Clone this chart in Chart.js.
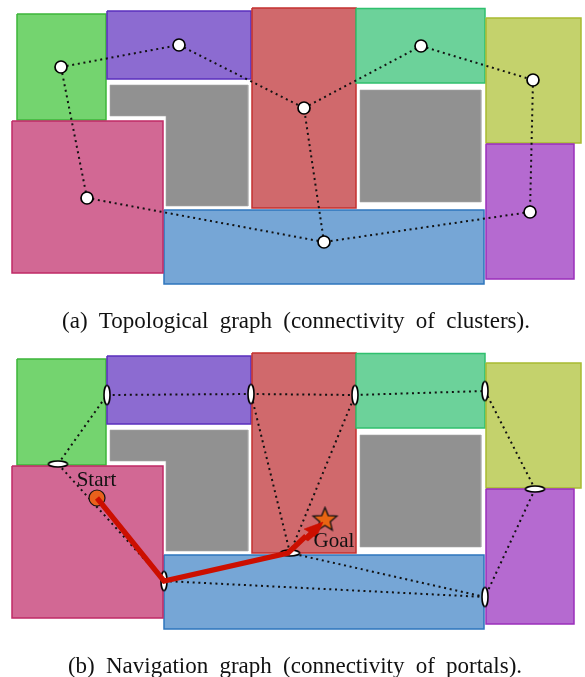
<!DOCTYPE html>
<html>
<head>
<meta charset="utf-8">
<title>Topological and navigation graphs</title>
<script src="https://cdn.jsdelivr.net/npm/chart.js@4/dist/chart.umd.min.js"></script>
<style>
  html, body { margin: 0; padding: 0; background: #fff; }
  canvas { display: block; }
</style>
</head>
<body>
<canvas id="chart" width="585" height="677"></canvas>
<script>
// everything is in picture units, y grows downwards
const panelShift = 345;

// clusters: x0, y0, x1, y1
const clusterNames = ["green", "violet", "red", "teal", "olive", "orchid", "blue", "pink"];
const clusterBoxes = [
  [17, 14, 106, 120],
  [107, 11, 251, 79],
  [252, 8, 356, 208],
  [356, 8.5, 485, 83],
  [486, 18, 581, 143],
  [486, 144, 574, 279],
  [164, 210, 484, 284],
  [12, 121, 163, 273],
];
const clusterFill = ["#74d46f", "#8c6bd1", "#d0696c", "#6cd29a", "#c4d26c", "#b56ad0", "#76a6d6", "#d26894"];
const clusterEdge = ["#3db53a", "#5a2fbd", "#c4302f", "#2fc06e", "#a8bb30", "#9a2fbb", "#2e75bd", "#c02a66"];

// obstacles
const obstacleL = [[110, 85], [248, 85], [248, 206], [166, 206], [166, 116], [110, 116], [110, 85]];
const obstacleSquare = [[360, 90], [481, 90], [481, 202], [360, 202], [360, 90]];

// (a) topological graph
const clusterNodes = [[61, 67], [179, 45], [304, 108], [421, 46], [533, 80], [530, 212], [324, 242], [87, 198]];
const clusterLinks = [[0, 1], [1, 2], [2, 3], [3, 4], [4, 5], [5, 6], [6, 2], [6, 7], [7, 0]];

// (b) navigation graph
const portalsFlat = [[58, 464], [535, 489], [290, 553]];
const portalsTall = [[107, 395], [251, 394], [355, 395], [485, 391], [485, 597], [164, 581]];
const portalLinks = [
  [[58, 464], [107, 395]],
  [[107, 395], [251, 394]],
  [[251, 394], [355, 395]],
  [[355, 395], [485, 391]],
  [[485, 391], [535, 489]],
  [[535, 489], [485, 597]],
  [[485, 597], [290, 553]],
  [[485, 597], [164, 581]],
  [[164, 581], [290, 553]],
  [[290, 553], [251, 394]],
  [[290, 553], [355, 395]],
  [[58, 464], [164, 581]],
];
const startPoint = [97, 498];
const goalPoint = [325, 520];
const routeLine = [[97, 498], [164, 581], [288, 553], [306, 536]];
const routeHead = [[323, 522], [304, 529], [309, 532], [303, 538], [308, 541], [314, 536], [316, 538], [323, 522]];

const texts = [
  { text: "(a) Topological graph (connectivity of clusters).", x: 296, y: 321.5, size: 23, spacing: 5.5 },
  { text: "(b) Navigation graph (connectivity of portals).", x: 295, y: 666.5, size: 23, spacing: 5.5 },
  { text: "Start", x: 96.5, y: 480, size: 21, spacing: 0 },
  { text: "Goal", x: 334, y: 541, size: 21, spacing: 0 },
];

const toXY = (p, dy = 0) => ({ x: p[0], y: p[1] + dy });

function box(b, dy) {
  const [x0, y0, x1, y1] = b;
  return [[x0, y0], [x1, y0], [x1, y1], [x0, y1], [x0, y0]].map(p => toXY(p, dy));
}

function shape(points, fillColor, edge, width) {
  return { type: "line", data: points, fill: "shape", backgroundColor: fillColor, borderColor: edge, borderWidth: width, pointRadius: 0, tension: 0 };
}

function dotted(a, b, dy = 0) {
  return { type: "line", data: [toXY(a, dy), toXY(b, dy)], borderColor: "#111", borderWidth: 2, borderDash: [2, 3.7], fill: false, pointRadius: 0 };
}

function markers(points, style) {
  return { type: "scatter", data: points.map(p => toXY(p)), pointStyle: style, showLine: false };
}

function ellipseIcon(w, h) {
  const c = document.createElement("canvas");
  c.width = w + 4; c.height = h + 4;
  const g = c.getContext("2d");
  g.beginPath();
  g.ellipse(c.width / 2, c.height / 2, w / 2, h / 2, 0, 0, Math.PI * 2);
  g.fillStyle = "#fff"; g.fill();
  g.strokeStyle = "#000"; g.lineWidth = 1.6; g.stroke();
  return c;
}

function starIcon(outer, inner) {
  const size = outer * 2 + 4;
  const c = document.createElement("canvas");
  c.width = size; c.height = size;
  const g = c.getContext("2d");
  g.beginPath();
  for (let i = 0; i < 10; i++) {
    const r = i % 2 ? inner : outer;
    const a = -Math.PI / 2 + i * Math.PI / 5;
    g.lineTo(size / 2 + r * Math.cos(a), size / 2 + r * Math.sin(a));
  }
  g.closePath();
  g.fillStyle = "#ea6512"; g.fill();
  g.strokeStyle = "#111"; g.lineWidth = 1.3; g.stroke();
  return c;
}

// paint order, first entry at the bottom
const layers = [];
[0, panelShift].forEach(dy => {
  clusterNames.forEach((name, i) => {
    layers.push(shape(box(clusterBoxes[i], dy), clusterFill[i], clusterEdge[i], 1.5));
  });
  layers.push(shape(obstacleL.map(p => toXY(p, dy)), "#919191", "#a9a9a9", 0.6));
  layers.push(shape(obstacleSquare.map(p => toXY(p, dy)), "#919191", "#a9a9a9", 0.6));
});

clusterLinks.forEach(([a, b]) => layers.push(dotted(clusterNodes[a], clusterNodes[b])));
layers.push({
  type: "scatter", data: clusterNodes.map(p => toXY(p)), showLine: false,
  pointStyle: "circle", pointRadius: 6, pointBackgroundColor: "#fff", pointBorderColor: "#000", pointBorderWidth: 1.7,
});

portalLinks.forEach(([a, b]) => layers.push(dotted(a, b)));
layers.push(markers(portalsFlat, ellipseIcon(19, 6)));
layers.push(markers(portalsTall, ellipseIcon(6, 19)));
layers.push({
  type: "scatter", data: [toXY(startPoint)], showLine: false,
  pointStyle: "circle", pointRadius: 8, pointBackgroundColor: "#e8611c", pointBorderColor: "#111", pointBorderWidth: 1.2,
});
layers.push(markers([goalPoint], starIcon(12.5, 5.5)));
layers.push({
  type: "line", data: routeLine.map(p => toXY(p)), borderColor: "#cc0f00", borderWidth: 5.2, fill: false, pointRadius: 0,
  borderJoinStyle: "miter", tension: 0,
});
layers.push(shape(routeHead.map(p => toXY(p)), "#cc0f00", "#cc0f00", 0.5));

const textPlugin = {
  id: "pageTexts",
  afterDatasetsDraw(chart) {
    const { ctx, scales } = chart;
    ctx.save();
    ctx.fillStyle = "#111";
    ctx.textAlign = "center";
    ctx.textBaseline = "middle";
    texts.forEach(t => {
      ctx.font = `${t.size}px "Liberation Serif", serif`;
      ctx.wordSpacing = `${t.spacing}px`;
      ctx.fillText(t.text, scales.x.getPixelForValue(t.x), scales.y.getPixelForValue(t.y));
    });
    ctx.restore();
  },
};

new Chart(document.getElementById("chart"), {
  type: "scatter",
  data: { datasets: layers.slice().reverse() },
  options: {
    responsive: false,
    animation: false,
    layout: { padding: 0, autoPadding: false },
    plugins: { legend: { display: false }, tooltip: { enabled: false } },
    events: [],
    scales: {
      x: { type: "linear", display: false, min: 0, max: 585 },
      y: { type: "linear", display: false, min: 0, max: 677, reverse: true },
    },
  },
  plugins: [textPlugin],
});
</script>
</body>
</html>
